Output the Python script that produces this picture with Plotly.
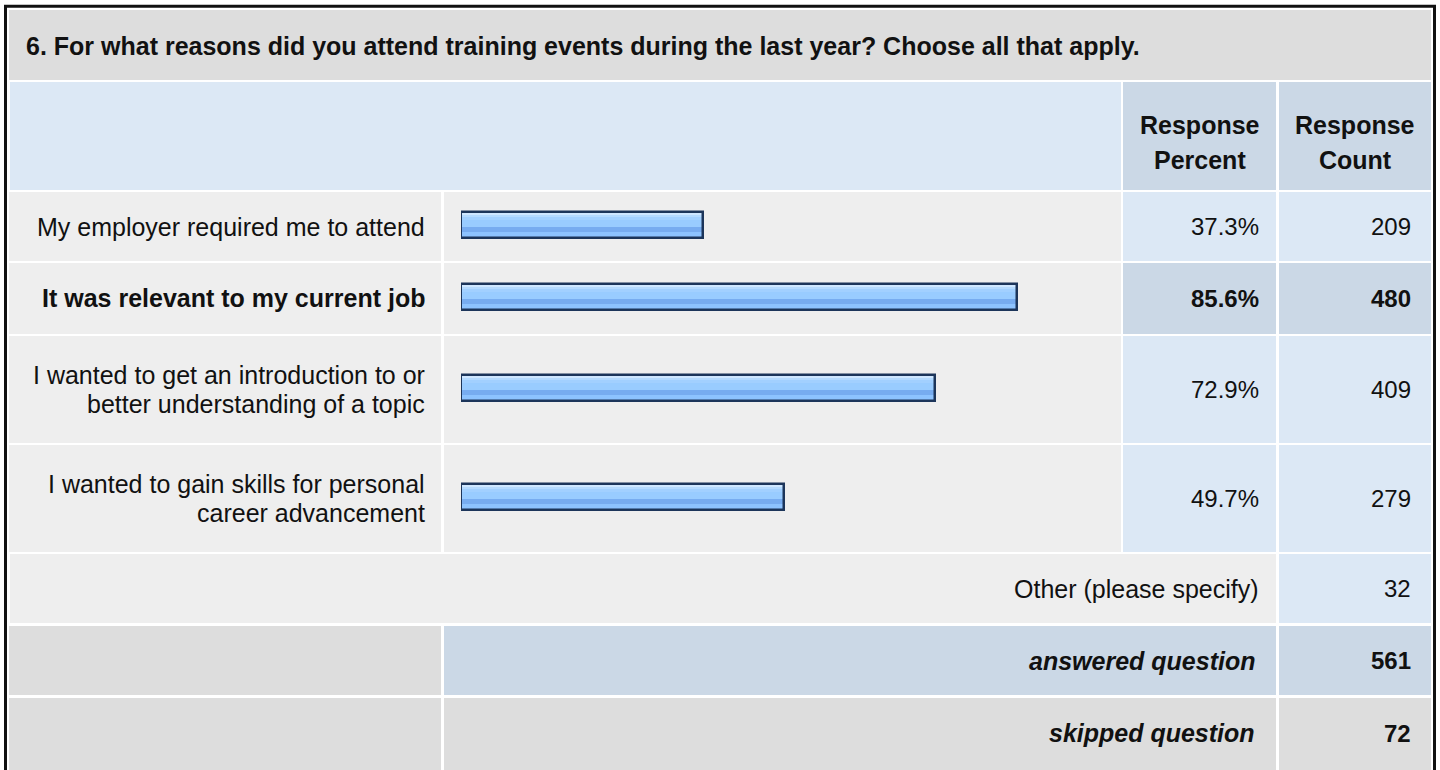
import plotly.graph_objects as go

# ---------------- data ----------------
question = "6. For what reasons did you attend training events during the last year? Choose all that apply."
header_percent = ["Response", "Percent"]
header_count = ["Response", "Count"]
categories = [
    ["My employer required me to attend"],
    ["It was relevant to my current job"],
    ["I wanted to get an introduction to or", "better understanding of a topic"],
    ["I wanted to gain skills for personal", "career advancement"],
]
percents = [37.3, 85.6, 72.9, 49.7]
counts = [209, 480, 409, 279]
highlighted = [False, True, False, False]
other_label = "Other (please specify)"
other_count = 32
answered_label = "answered question"
answered_count = 561
skipped_label = "skipped question"
skipped_count = 72

# ---------------- layout geometry (pixels) ----------------
W, H = 1440, 770
FONT = "Liberation Sans, Arial, Helvetica, sans-serif"
FS = 25      # words
FS_NUM = 24  # numbers
TXT = "#111111"

C_TITLE = "#DDDDDD"
C_HEAD = "#DCE8F5"
C_HEAD_DARK = "#CBD8E6"
C_CELL = "#EEEEEE"
C_VAL = "#DCE8F5"

col_label = (9, 441)
col_bar = (444, 1121)
col_pct = (1123, 1276)
col_cnt = (1279, 1431)
row_title = (10, 80)
row_header = (82, 190)
item_rows = [(192, 261), (263, 334), (336, 443), (445, 552)]
row_other = (554, 623)
row_answered = (626, 695)
row_skipped = (698, 790)
bar_x0, bar_x100 = 461, 1111
LINE_GAP = 29


def px(x):
    return x / W


def py(y):
    return 1 - y / H


shapes = []
annotations = []


def cell(x0, x1, y0, y1, color):
    shapes.append(dict(type="rect", xref="paper", yref="paper",
                       x0=px(x0), x1=px(x1), y0=py(y1), y1=py(y0),
                       fillcolor=color, line=dict(width=0), layer="below"))


def text(s, x, y, anchor="right", bold=False, italic=False, size=FS):
    annotations.append(dict(
        text=s, xref="paper", yref="paper", x=px(x), y=py(y),
        xanchor=anchor, yanchor="middle", align=anchor if anchor != "center" else "center",
        showarrow=False,
        font=dict(family=FONT, size=size, color=TXT,
                  weight="bold" if bold else "normal",
                  style="italic" if italic else "normal")))


def lines(parts, x, cy, gap, **kw):
    n = len(parts)
    for k, s in enumerate(parts):
        text(s, x, cy + (k - (n - 1) / 2) * gap, **kw)


# title row
cell(col_label[0], col_cnt[1], row_title[0], row_title[1], C_TITLE)
text(question, 24, (row_title[0] + row_title[1]) / 2 + 1, anchor="left", bold=True)

# header row
cell(col_label[0] + 1, col_bar[1], row_header[0], row_header[1], C_HEAD)
cell(col_pct[0], col_pct[1], row_header[0], row_header[1], C_HEAD_DARK)
cell(col_cnt[0], col_cnt[1], row_header[0], row_header[1], C_HEAD_DARK)
hy = 142.5
lines(header_percent, (col_pct[0] + col_pct[1]) / 2, hy, 35, anchor="center", bold=True)
lines(header_count, (col_cnt[0] + col_cnt[1]) / 2, hy, 35, anchor="center", bold=True)

# item rows
for i, (y0, y1) in enumerate(item_rows):
    cy = (y0 + y1) / 2
    valc = C_HEAD_DARK if highlighted[i] else C_VAL
    cell(col_label[0], col_label[1], y0, y1, C_CELL)
    cell(col_bar[0], col_bar[1], y0, y1, C_CELL)
    cell(col_pct[0], col_pct[1], y0, y1, valc)
    cell(col_cnt[0], col_cnt[1], y0, y1, valc)
    b = highlighted[i]
    lines(categories[i], col_label[1] - 14, cy, LINE_GAP, bold=b)
    text(f"{percents[i]:.1f}%", col_pct[1] - 15, cy, bold=b, size=FS_NUM)
    text(str(counts[i]), col_cnt[1] - 18, cy, bold=b, size=FS_NUM)

# other row
cell(col_label[0] + 1, col_pct[1], row_other[0], row_other[1], C_CELL)
cell(col_cnt[0], col_cnt[1], row_other[0], row_other[1], C_VAL)
oy = (row_other[0] + row_other[1]) / 2
text(other_label, col_pct[1] - 15, oy)
text(str(other_count), col_cnt[1] - 18, oy, size=FS_NUM)

# answered row
cell(col_label[0], col_label[1], row_answered[0], row_answered[1], C_TITLE)
cell(col_bar[0], col_pct[1], row_answered[0], row_answered[1], C_HEAD_DARK)
cell(col_cnt[0], col_cnt[1], row_answered[0], row_answered[1], C_HEAD_DARK)
ay = (row_answered[0] + row_answered[1]) / 2
text(answered_label, col_pct[1] - 19, ay, bold=True, italic=True)
text(str(answered_count), col_cnt[1] - 18, ay, bold=True, size=FS_NUM)

# skipped row
cell(col_label[0], col_label[1], row_skipped[0], row_skipped[1], C_TITLE)
cell(col_bar[0], col_pct[1], row_skipped[0], row_skipped[1], C_TITLE)
cell(col_cnt[0], col_cnt[1], row_skipped[0], row_skipped[1], C_TITLE)
sy = 733
text(skipped_label, col_pct[1] - 19, sy, bold=True, italic=True)
text(str(skipped_count), col_cnt[1] - 18, sy, bold=True, size=FS_NUM)

# outer border
shapes.append(dict(type="rect", xref="paper", yref="paper",
                   x0=px(5.5), x1=px(1434.5), y0=py(800), y1=py(6.3),
                   line=dict(color="#111111", width=3), fillcolor="rgba(0,0,0,0)", layer="above"))

# ---------------- bars ----------------
fig = go.Figure()
BAR_H = 26
stripes = [("#CFE7FF", 3), ("#B4DAFF", 2), ("#A2D0FF", 3), ("#99CCFF", 7), ("#77ACF0", 5), ("#8DC3FF", 6)]

layout_axes = {}
for i, (y0, y1) in enumerate(item_rows):
    yname = "y" if i == 0 else f"y{i + 1}"
    ykey = "yaxis" if i == 0 else f"yaxis{i + 1}"
    h = y1 - y0
    shift = 1.5
    layout_axes[ykey] = dict(domain=[py(y1), py(y0)], range=[-h / 2 - shift, h / 2 - shift],
                             type="category", visible=False, fixedrange=True, anchor="x")
    label = " ".join(categories[i])
    top = BAR_H / 2
    for color, sh in stripes:
        fig.add_trace(go.Bar(x=[percents[i]], y=[label], orientation="h",
                             yaxis=yname, xaxis="x", width=sh, offset=top - sh,
                             marker=dict(color=color, line=dict(width=0)),
                             hoverinfo="skip", showlegend=False))
        top -= sh
    fig.add_trace(go.Bar(x=[percents[i]], y=[label], orientation="h",
                         yaxis=yname, xaxis="x", width=BAR_H, offset=-BAR_H / 2,
                         marker=dict(color="rgba(0,0,0,0)", line=dict(width=2.5, color="#1C355A")),
                         hoverinfo="skip", showlegend=False))

fig.update_layout(
    width=W, height=H, autosize=False,
    margin=dict(l=0, r=0, t=0, b=0, pad=0),
    paper_bgcolor="white", plot_bgcolor="rgba(0,0,0,0)",
    barmode="overlay", bargap=0,
    xaxis=dict(domain=[px(bar_x0), px(bar_x100)], range=[0, 100], visible=False,
               fixedrange=True, anchor="y"),
    shapes=shapes, annotations=annotations,
    showlegend=False,
    **layout_axes,
)

fig.write_html("out.html", config={"displayModeBar": False},
               post_script="document.body.style.margin='0';document.body.style.overflow='hidden';")
